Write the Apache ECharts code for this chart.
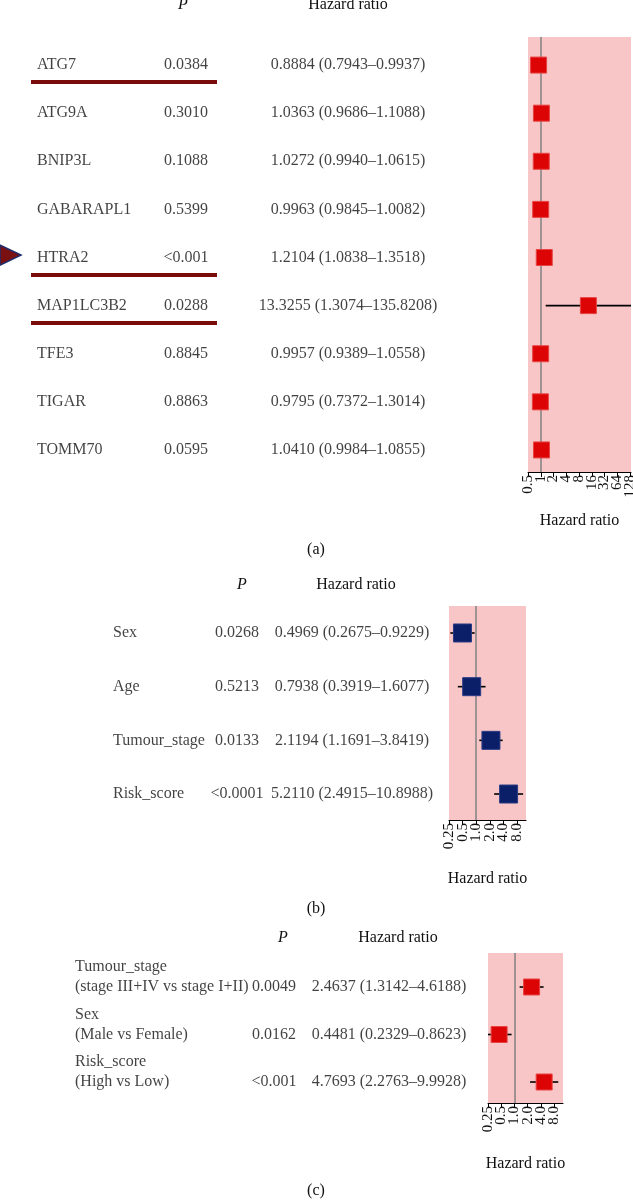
<!DOCTYPE html>
<html>
<head>
<meta charset="utf-8">
<script src="https://cdn.jsdelivr.net/npm/echarts@6/dist/echarts.min.js"></script>
<style>
html,body{margin:0;padding:0;background:#fff;}
#chart{width:633px;height:1202px;}
</style>
</head>
<body>
<div id="chart"></div>
<script>
// ---------- Data ----------
const genesA = ['ATG7','ATG9A','BNIP3L','GABARAPL1','HTRA2','MAP1LC3B2','TFE3','TIGAR','TOMM70'];
const pA = ['0.0384','0.3010','0.1088','0.5399','<0.001','0.0288','0.8845','0.8863','0.0595'];
const hrA = [0.8884,1.0363,1.0272,0.9963,1.2104,13.3255,0.9957,0.9795,1.0410];
const loA = [0.7943,0.9686,0.9940,0.9845,1.0838,1.3074,0.9389,0.7372,0.9984];
const hiA = [0.9937,1.1088,1.0615,1.0082,1.3518,135.8208,1.0558,1.3014,1.0855];
const underlinedA = ['ATG7','HTRA2','MAP1LC3B2'];
const markedA = ['HTRA2'];

const varsB = ['Sex','Age','Tumour_stage','Risk_score'];
const pB = ['0.0268','0.5213','0.0133','<0.0001'];
const hrB = [0.4969,0.7938,2.1194,5.2110];
const loB = [0.2675,0.3919,1.1691,2.4915];
const hiB = [0.9229,1.6077,3.8419,10.8988];

const varsC = ['Tumour_stage','Sex','Risk_score'];
const subC = ['(stage III+IV vs stage I+II)','(Male vs Female)','(High vs Low)'];
const pC = ['0.0049','0.0162','<0.001'];
const hrC = [2.4637,0.4481,4.7693];
const loC = [1.3142,0.2329,2.2763];
const hiC = [4.6188,0.8623,9.9928];

const ticksA = [0.5,1,2,4,8,16,32,64,128];
const tickLabelsA = ['0.5','1','2','4','8','16','32','64','128'];
const ticksBC = [0.25,0.5,1,2,4,8];
const tickLabelsBC = ['0.25','0.5','1.0','2.0','4.0','8.0'];

// ---------- Helpers ----------
const FONT = '"Liberation Serif", "Times New Roman", serif';
const TXT = '#111111';
const FS = 16;
const fmtHR = (h,l,u) => h.toFixed(4) + ' (' + l.toFixed(4) + '\u2013' + u.toFixed(4) + ')';

const grids = [], xAxes = [], yAxes = [], series = [];

// main axis: line, all ticks, labels of even index; overlay axis: labels of odd index
function plotX(gi, min, max, ticks, labels, nameGap, parity){
  const tv = ticks.map(Math.log2);
  const lv = tv.filter((v,i)=>i % 2 === parity);
  const main = parity === 0;
  return {
    type:'value', gridIndex:gi, min:min, max:max, position:'bottom', offset:0,
    axisLine:{show:main, onZero:false, lineStyle:{color:'#000', width:1}},
    axisTick:{show:main, length:5, lineStyle:{color:'#000', width:1}, customValues:tv},
    axisLabel:{show:true, rotate:90, margin:3, fontSize:15, color:TXT, fontFamily:FONT,
      showMinLabel:true, showMaxLabel:true, hideOverlap:false,
      customValues:lv,
      formatter:function(v){ const i = tv.findIndex(t=>Math.abs(t-v)<1e-6); return i>=0?labels[i]:''; }},
    splitLine:{show:false},
    name: main ? 'Hazard ratio' : '', nameLocation:'middle', nameGap:nameGap,
    nameTextStyle:{fontFamily:FONT, fontSize:FS, color:TXT}
  };
}

function addPanel(cfg){
  const gPlot = grids.length;
  grids.push({left:cfg.grid.left, top:cfg.grid.top, width:cfg.grid.width, height:cfg.grid.height,
    show:true, backgroundColor:'#f8c6c6', borderWidth:0, outerBoundsMode:'none', containLabel:false});
  const xPlot = xAxes.length;
  xAxes.push(plotX(gPlot, cfg.xRange[0], cfg.xRange[1], cfg.ticks, cfg.tickLabels, cfg.nameGap, 0));
  xAxes.push(plotX(gPlot, cfg.xRange[0], cfg.xRange[1], cfg.ticks, cfg.tickLabels, cfg.nameGap, 1));
  const yPlot = yAxes.length;
  yAxes.push({type:'value', gridIndex:gPlot, min:cfg.yRange[0], max:cfg.yRange[1], inverse:true, show:false});

  const gTab = grids.length;
  grids.push({left:0, top:cfg.grid.top, width:633, height:cfg.grid.height, show:false, outerBoundsMode:'none'});
  const xTab = xAxes.length;
  xAxes.push({type:'value', gridIndex:gTab, min:0, max:633, show:false});
  const yTab = yAxes.length;
  yAxes.push({type:'value', gridIndex:gTab, min:cfg.yRange[0], max:cfg.yRange[1], inverse:true, show:false});

  // CI lines + reference line
  series.push({
    type:'custom', xAxisIndex:xPlot, yAxisIndex:yPlot, silent:true, z:2,
    encode:{x:[0,1], y:2},
    data: cfg.lo.map((l,i)=>[Math.log2(l), Math.log2(cfg.hi[i]), i]),
    renderItem:function(params, api){
      const p1 = api.coord([api.value(0), api.value(2)]);
      const p2 = api.coord([api.value(1), api.value(2)]);
      const cs = params.coordSys;
      const x1 = Math.max(p1[0], cs.x), x2 = Math.min(p2[0], cs.x + cs.width);
      return {type:'line', shape:{x1:x1, y1:p1[1], x2:x2, y2:p1[1]}, style:{stroke:'#000', lineWidth:1.6}};
    },
    markLine:{silent:true, symbol:['none','none'], label:{show:false},
      lineStyle:{color:'#808080', width:1.5, type:'solid'}, data:[{xAxis:0}]}
  });
  // Boxes
  series.push({
    type:'scatter', xAxisIndex:xPlot, yAxisIndex:yPlot, silent:true, z:5,
    symbol:'rect', symbolSize:cfg.box,
    itemStyle:{color:cfg.color, borderColor:cfg.border, borderWidth:1, opacity:1},
    data: cfg.hr.map((h,i)=>[Math.log2(h), i])
  });
  // Table text
  const items = [];
  cfg.names.forEach((n,i)=>{
    if (cfg.sub) {
      items.push({x:cfg.cols.name, y:i - cfg.subOffset, t:n, a:'left'});
      items.push({x:cfg.cols.name, y:i, t:cfg.sub[i], a:'left'});
    } else {
      items.push({x:cfg.cols.name, y:i, t:n, a:'left'});
    }
    items.push({x:cfg.cols.p, y:i, t:cfg.p[i], a:'center'});
    items.push({x:cfg.cols.hr, y:i, t:fmtHR(cfg.hr[i], cfg.lo[i], cfg.hi[i]), a:'center'});
  });
  const textSeries = {
    type:'scatter', xAxisIndex:xTab, yAxisIndex:yTab, silent:true, z:6, clip:false,
    symbolSize:0.01, itemStyle:{color:'rgba(0,0,0,0)'},
    label:{show:true, position:'inside', formatter:'{b}', color:TXT, fontFamily:FONT, fontSize:FS},
    data: items.map(it=>({value:[it.x, it.y], name:it.t, label:{align:it.a, verticalAlign:'middle'}}))
  };
  if (cfg.underlined) {
    textSeries.markLine = {silent:true, symbol:['none','none'], label:{show:false},
      lineStyle:{color:'#7a0b0b', width:4, type:'solid'},
      data: cfg.underlined.map(n=>{ const r = cfg.names.indexOf(n);
        return [{coord:[31, r + 0.35]}, {coord:[217, r + 0.35]}]; })};
  }
  series.push(textSeries);
  if (cfg.marked) {
    series.push({
      type:'scatter', xAxisIndex:xTab, yAxisIndex:yTab, silent:true, z:6, clip:false,
      symbol:'triangle', symbolRotate:-90, symbolSize:[20,21],
      itemStyle:{color:'#7a1010', borderColor:'#1f2d6e', borderWidth:1.5, opacity:1},
      data: cfg.marked.map(n=>[10.5, cfg.names.indexOf(n) - 0.05])
    });
  }
}

addPanel({
  grid:{left:528, top:37, width:103, height:435},
  xRange:[-1, 7.078], yRange:[-0.5833, 8.4583],
  ticks:ticksA, tickLabels:tickLabelsA, nameGap:41,
  lo:loA, hi:hiA, hr:hrA, names:genesA, p:pA,
  box:16, color:'#dc0404', border:'#e84444',
  cols:{name:37, p:186, hr:348},
  underlined:underlinedA, marked:markedA
});
addPanel({
  grid:{left:449, top:606, width:77, height:214},
  xRange:[-2, 3.66], yRange:[-0.503, 3.484],
  ticks:ticksBC, tickLabels:tickLabelsBC, nameGap:51,
  lo:loB, hi:hiB, hr:hrB, names:varsB, p:pB,
  box:18, color:'#0b1f68', border:'#2b3c85',
  cols:{name:113, p:237, hr:352}
});
addPanel({
  grid:{left:488, top:953, width:75, height:150},
  xRange:[-2, 3.68], yRange:[-0.716, 2.442],
  ticks:ticksBC, tickLabels:tickLabelsBC, nameGap:53,
  lo:loC, hi:hiC, hr:hrC, names:varsC, sub:subC, subOffset:0.42, p:pC,
  box:16, color:'#dc0404', border:'#e84444',
  cols:{name:75, p:274, hr:389}
});

function gtext(x, y, text, italic){
  return {type:'text', x:x, y:y, silent:true,
    style:{text:text, fill:TXT, fontFamily:FONT, fontSize:FS, fontStyle: italic?'italic':'normal',
      align:'center', verticalAlign:'middle'}};
}
const graphics = [
  gtext(183, 5, 'P', true), gtext(348, 5, 'Hazard ratio'),
  gtext(242, 585, 'P', true), gtext(356, 585, 'Hazard ratio'),
  gtext(283, 938, 'P', true), gtext(398, 938, 'Hazard ratio'),
  gtext(316, 550, '(a)'), gtext(316, 909, '(b)'), gtext(316, 1191, '(c)')
];

const chart = echarts.init(document.getElementById('chart'), null, {renderer:'canvas'});
chart.setOption({
  animation:false,
  backgroundColor:'#ffffff',
  grid:grids, xAxis:xAxes, yAxis:yAxes, series:series,
  graphic:graphics
});
</script>
</body>
</html>
